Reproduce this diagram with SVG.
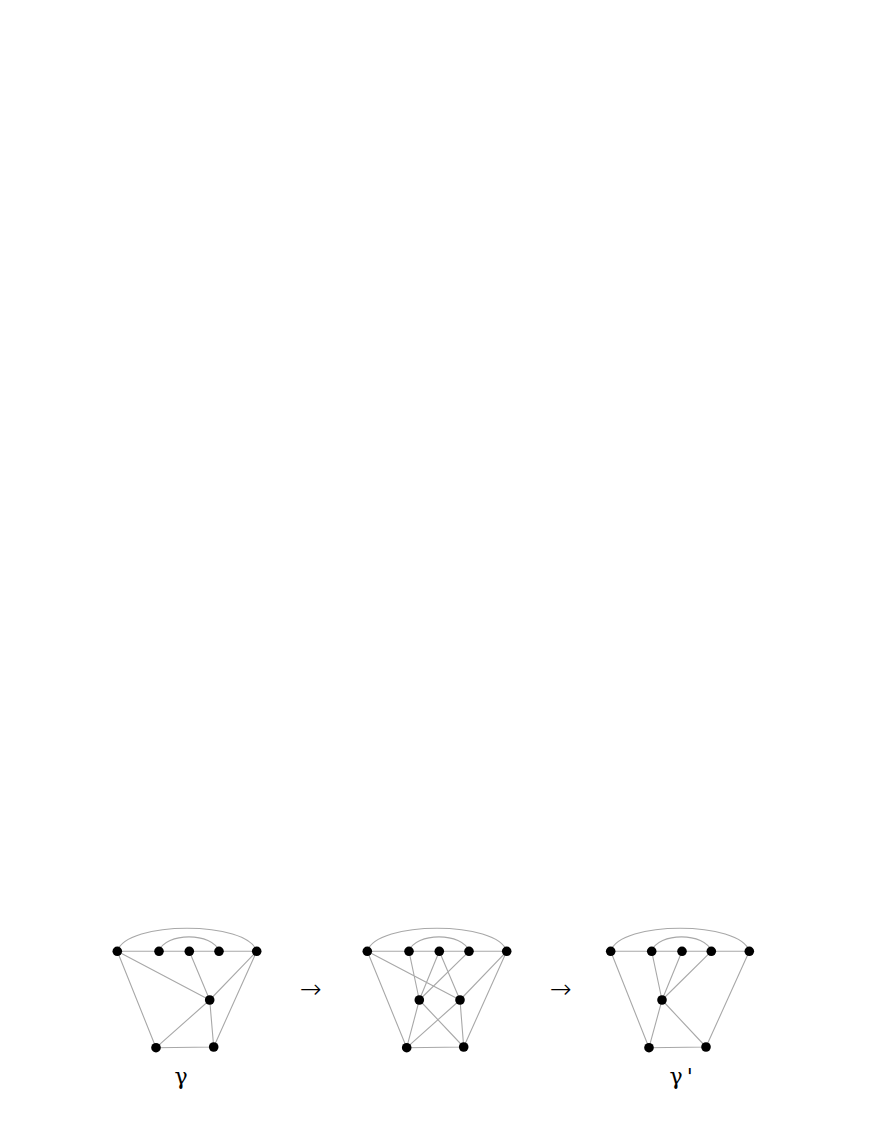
<svg xmlns="http://www.w3.org/2000/svg" width="872" height="1128" viewBox="0 0 872 1128">
<style>
.e{stroke:#a8a8a8;stroke-width:1.1;fill:none}
.n{fill:#000}
.t{font-family:"DejaVu Serif","Liberation Serif",serif;fill:#000}
.a{font-family:"DejaVu Sans","Liberation Sans",sans-serif;fill:#000;font-weight:200}
</style>
<rect width="872" height="1128" fill="#fff"/>
<g id="connectors">
<!-- graph 1 -->
<path class="e" d="M117.3,951.3 H256.7"/>
<path class="e" d="M117.3,951.3 C126,920.5 248,920.5 256.7,951.3"/>
<path class="e" d="M159,951.3 C165,932 213,932 219,951.3"/>
<path class="e" d="M117.3,951.3 L209.7,1000 M189.3,951.3 L209.7,1000 M256.7,951.3 L209.7,1000 M256.7,951.3 L213.7,1047 M117.3,951.3 L156,1047.7 M209.7,1000 L156,1047.7 M209.7,1000 L213.7,1047 M156,1047.7 L213.7,1047"/>
<!-- graph 2 -->
<path class="e" d="M367.3,951.3 H506.7"/>
<path class="e" d="M367.3,951.3 C376,920.5 498,920.5 506.7,951.3"/>
<path class="e" d="M409,951.3 C415,932 463,932 469,951.3"/>
<path class="e" d="M367.3,951.3 L406.7,1047.7 M367.3,951.3 L460,1000 M409,951.3 L419.3,1000 M439.3,951.3 L419.3,1000 M469,951.3 L419.3,1000 M439.3,951.3 L460,1000 M506.7,951.3 L460,1000 M506.7,951.3 L463.7,1047 M419.3,1000 L406.7,1047.7 M419.3,1000 L463.7,1047 M460,1000 L406.7,1047.7 M460,1000 L463.7,1047 M406.7,1047.7 L463.7,1047"/>
<!-- graph 3 -->
<path class="e" d="M610.7,951.3 H749.3"/>
<path class="e" d="M610.7,951.3 C619.5,920.5 740.5,920.5 749.3,951.3"/>
<path class="e" d="M651.7,951.3 C657.7,932 705.3,932 711.3,951.3"/>
<path class="e" d="M610.7,951.3 L649,1047.7 M651.7,951.3 L662,1000 M682,951.3 L662,1000 M711.3,951.3 L662,1000 M662,1000 L649,1047.7 M662,1000 L706,1047 M749.3,951.3 L706,1047 M649,1047.7 L706,1047"/>
</g>
<g id="graph1">
<circle class="n" cx="117.3" cy="951.3" r="4.8"/>
<circle class="n" cx="159" cy="951.3" r="4.8"/>
<circle class="n" cx="189.3" cy="951.3" r="4.8"/>
<circle class="n" cx="219" cy="951.3" r="4.8"/>
<circle class="n" cx="256.7" cy="951.3" r="4.8"/>
<circle class="n" cx="209.7" cy="1000" r="4.8"/>
<circle class="n" cx="156" cy="1047.7" r="4.8"/>
<circle class="n" cx="213.7" cy="1047" r="4.8"/>
<text class="t" x="181" y="1084" font-size="22" text-anchor="middle">γ</text>
</g>
<g id="arrow1"><text class="a" x="311" y="998" font-size="26" text-anchor="middle">→</text></g>
<g id="graph2">
<circle class="n" cx="367.3" cy="951.3" r="4.8"/>
<circle class="n" cx="409" cy="951.3" r="4.8"/>
<circle class="n" cx="439.3" cy="951.3" r="4.8"/>
<circle class="n" cx="469" cy="951.3" r="4.8"/>
<circle class="n" cx="506.7" cy="951.3" r="4.8"/>
<circle class="n" cx="419.3" cy="1000" r="4.8"/>
<circle class="n" cx="460" cy="1000" r="4.8"/>
<circle class="n" cx="406.7" cy="1047.7" r="4.8"/>
<circle class="n" cx="463.7" cy="1047" r="4.8"/>
</g>
<g id="arrow2"><text class="a" x="561" y="998" font-size="26" text-anchor="middle">→</text></g>
<g id="graph3">
<circle class="n" cx="610.7" cy="951.3" r="4.8"/>
<circle class="n" cx="651.7" cy="951.3" r="4.8"/>
<circle class="n" cx="682" cy="951.3" r="4.8"/>
<circle class="n" cx="711.3" cy="951.3" r="4.8"/>
<circle class="n" cx="749.3" cy="951.3" r="4.8"/>
<circle class="n" cx="662" cy="1000" r="4.8"/>
<circle class="n" cx="649" cy="1047.7" r="4.8"/>
<circle class="n" cx="706" cy="1047" r="4.8"/>
<text class="t" x="669.5" y="1084" font-size="22">γ<tspan dx="4">'</tspan></text>
</g>
</svg>
